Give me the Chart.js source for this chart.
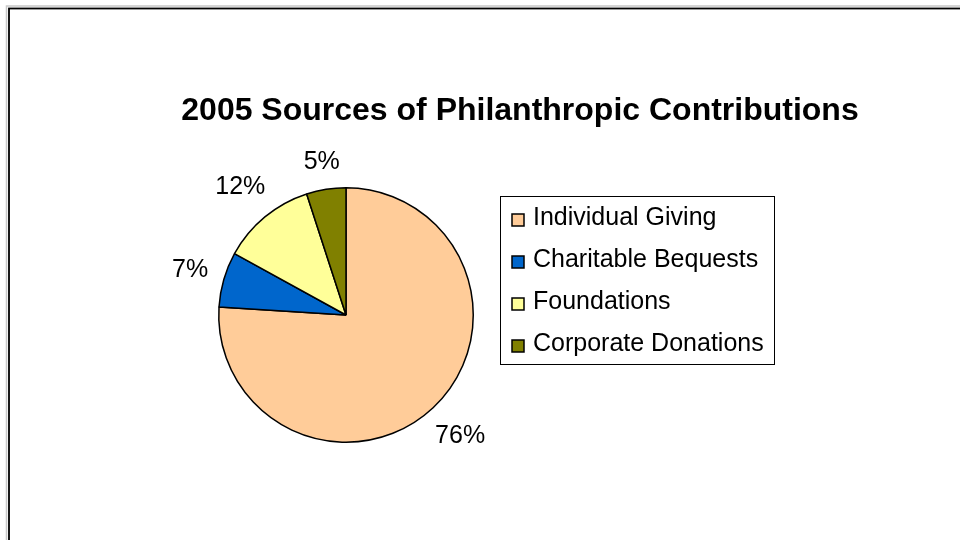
<!DOCTYPE html>
<html lang="en">
<head>
  <meta charset="UTF-8" />
  <title>2005 Sources of Philanthropic Contributions</title>
  <script src="https://cdn.jsdelivr.net/npm/chart.js"></script>
  <style>
    html, body {
      margin: 0;
      padding: 0;
      background: #fff;
    }
    canvas {
      display: block;
    }
  </style>
</head>
<body>
  <canvas id="pieChart" width="960" height="540"></canvas>

  <script>
    const chartTitle = "2005 Sources of Philanthropic Contributions";
    const sources = ["Individual Giving", "Charitable Bequests", "Foundations", "Corporate Donations"];
    const shares = [76, 7, 12, 5];
    const sliceColors = ["#FFCC99", "#0066CC", "#FFFF99", "#808000"];

    const font = "'Liberation Sans', Arial, sans-serif";

    // frame, title, legend box and percent labels
    const excelLook = {
      id: "excelLook",
      beforeDraw(chart) {
        const ctx = chart.ctx;
        ctx.save();
        ctx.fillStyle = "#fff";
        ctx.fillRect(0, 0, chart.width, chart.height);
        ctx.strokeStyle = "#c8c8c8";
        ctx.lineWidth = 1.5;
        ctx.strokeRect(6.5, 6, 1100, 700);
        ctx.strokeStyle = "#000";
        ctx.lineWidth = 1.8;
        ctx.strokeRect(9, 8.5, 1100, 700);
        ctx.restore();
      },
      afterDraw(chart) {
        const ctx = chart.ctx;
        ctx.save();

        // title
        ctx.fillStyle = "#000";
        ctx.font = "bold 32px " + font;
        ctx.textAlign = "center";
        ctx.textBaseline = "alphabetic";
        ctx.fillText(chartTitle, 520, 120);

        // percent labels just outside each slice
        ctx.font = "25px " + font;
        ctx.textBaseline = "middle";
        const arcs = chart.getDatasetMeta(0).data;
        arcs.forEach((arc, i) => {
          const p = arc.getProps(["x", "y", "startAngle", "endAngle", "outerRadius"], true);
          const mid = (p.startAngle + p.endAngle) / 2;
          const c = Math.cos(mid), s = Math.sin(mid);
          const txt = shares[i] + "%";
          const w = ctx.measureText(txt).width;
          const d = p.outerRadius + 15 + Math.abs(c) * w / 2 + Math.abs(s) * 10;
          ctx.fillText(txt, p.x + c * d, p.y + s * d);
        });

        // legend
        ctx.strokeStyle = "#000";
        ctx.lineWidth = 1;
        ctx.strokeRect(500.5, 196.5, 274, 168);
        ctx.textAlign = "left";
        sources.forEach((name, i) => {
          const y = 220 + i * 42;
          ctx.fillStyle = sliceColors[i];
          ctx.fillRect(512, y - 6, 12, 12);
          ctx.lineWidth = 1.5;
          ctx.strokeRect(512, y - 6, 12, 12);
          ctx.fillStyle = "#000";
          ctx.fillText(name, 533, y - 2);
        });

        ctx.restore();
      }
    };

    new Chart(document.getElementById("pieChart"), {
      type: "pie",
      data: {
        labels: sources,
        datasets: [{
          data: shares,
          backgroundColor: sliceColors,
          borderColor: "#000",
          borderWidth: 1.5
        }]
      },
      options: {
        responsive: false,
        animation: false,
        layout: {
          padding: { left: 218, top: 187, right: 486, bottom: 97 }
        },
        plugins: {
          legend: { display: false },
          tooltip: { enabled: false }
        }
      },
      plugins: [excelLook]
    });
  </script>
</body>
</html>
